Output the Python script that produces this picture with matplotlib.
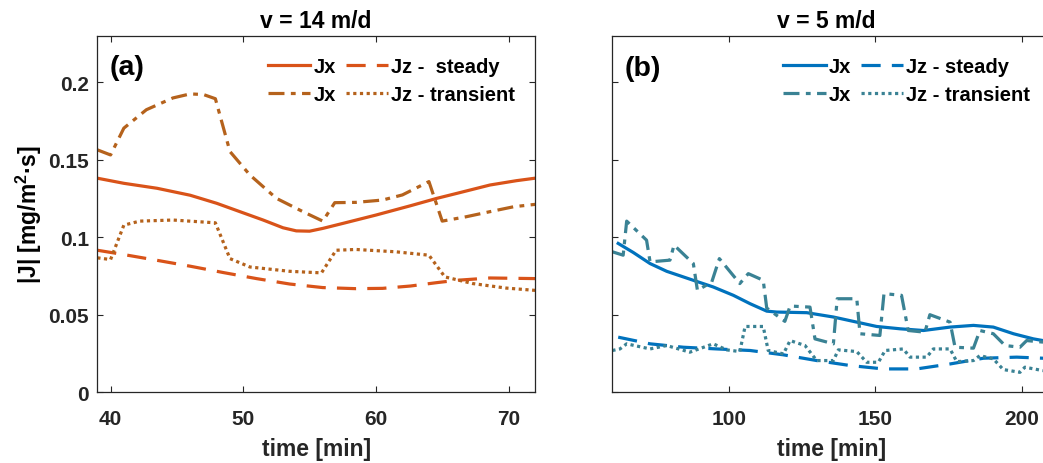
import matplotlib.pyplot as plt
import numpy as np

plt.rcParams['font.family'] = ['Liberation Sans', 'DejaVu Sans']
plt.rcParams['font.weight'] = 'bold'
plt.rcParams['mathtext.fontset'] = 'custom'
plt.rcParams['mathtext.bf'] = 'Liberation Sans:bold'
plt.rcParams['mathtext.rm'] = 'Liberation Sans:bold'

# ---- panel (a): v = 14 m/d ----
t_a_jx_s = [39, 41, 43.5, 46, 48, 49.75, 51.5, 53, 54, 55, 56, 57.5, 60, 62.6, 64.6, 66.1, 68.6, 70.6, 72]
j_a_jx_s = [0.138, 0.1347, 0.1315, 0.127, 0.1218, 0.1164, 0.111, 0.106, 0.104, 0.1038, 0.1056,
            0.1088, 0.1142, 0.1202, 0.125, 0.1282, 0.1336, 0.1364, 0.138]

t_a_jz_s = [39, 41, 43.5, 46, 48.5, 51, 53.5, 56, 58.5, 60.5, 62.6, 64.6, 66.1, 68.6, 72]
j_a_jz_s = [0.0915, 0.0887, 0.085, 0.0812, 0.0771, 0.0732, 0.0697, 0.0674, 0.0667, 0.0669,
            0.0684, 0.0706, 0.0721, 0.0736, 0.0732]

t_a_jx_t = [39, 40, 41, 42.7, 44.7, 46, 47, 47.9, 49, 50.5, 52.5, 54.5, 56, 56.9, 58.5, 60.5,
            62, 64, 65, 66.8, 68.6, 70.4, 72]
j_a_jx_t = [0.1563, 0.153, 0.1703, 0.1822, 0.1898, 0.1924, 0.192, 0.1893, 0.1552, 0.1401, 0.125,
            0.1164, 0.1103, 0.1222, 0.1224, 0.1239, 0.1272, 0.1358, 0.1103, 0.1131, 0.1164,
            0.1196, 0.1211]

t_a_jz_t = [39, 40, 41, 42.2, 44.7, 47.9, 49, 50.5, 53.5, 55.9, 57, 58.5, 61.5, 64, 65.2, 67.3, 69.8, 72]
j_a_jz_t = [0.0866, 0.0855, 0.1077, 0.1103, 0.111, 0.1092, 0.0861, 0.0807, 0.0779, 0.0769,
            0.0915, 0.092, 0.0905, 0.0883, 0.0743, 0.07, 0.0671, 0.0656]

# ---- panel (b): v = 5 m/d ----
t_b_jx_s = [62, 67.2, 72.9, 78.6, 87.7, 94.5, 101.4, 107.1, 112.8, 116.2, 126.5, 135.6, 143.6,
            150.4, 158.4, 166.4, 175.5, 183.5, 190.3, 197.2, 204, 207.3]
j_b_jx_s = [0.0959, 0.09, 0.0829, 0.0779, 0.0721, 0.0678, 0.0624, 0.057, 0.0522, 0.0516, 0.0512,
            0.0484, 0.0451, 0.0423, 0.0408, 0.0397, 0.0419, 0.043, 0.0419, 0.0376, 0.0343, 0.0332]

t_b_jz_s = [62, 72.9, 84.3, 95.7, 107.1, 118.5, 129.9, 141.3, 152.7, 164.1, 175.5, 186.9, 198.3, 207.3]
j_b_jz_s = [0.0354, 0.0311, 0.0289, 0.0278, 0.0268, 0.024, 0.0203, 0.0171, 0.0149, 0.0149,
            0.0181, 0.0218, 0.0225, 0.0218]

t_b_jx_t = [60, 63.7, 64.9, 71.7, 72.9, 79.7, 81.1, 87.7, 89.1, 94, 96.6, 103.6, 106.5, 111.6,
            112.8, 119, 120.8, 127.6, 129.3, 135.6, 136.9, 143.6, 144.7, 151.5, 152.9, 158.9,
            161.2, 166.9, 168.6, 175.5, 177.2, 183.5, 185.7, 190.3, 194.3, 199.4, 201.7, 207.3]
j_b_jx_t = [0.0905, 0.0883, 0.1103, 0.098, 0.084, 0.0851, 0.0948, 0.0829, 0.0656, 0.071, 0.0861,
            0.07, 0.0764, 0.0721, 0.0542, 0.0456, 0.0555, 0.0548, 0.0343, 0.0311, 0.0602, 0.0602,
            0.0376, 0.0365, 0.0635, 0.0624, 0.0397, 0.0386, 0.0499, 0.0451, 0.0289, 0.0283,
            0.0397, 0.0376, 0.03, 0.0289, 0.0332, 0.0322]

t_b_jz_t = [60, 62.6, 64.9, 72.9, 78.6, 86.5, 94.5, 99.1, 103.6, 105.4, 111.6, 113.3, 118.5,
            120.8, 125.9, 129.9, 135.6, 137.3, 143.6, 147, 151, 153.3, 159.5, 161.8, 167.5,
            169.8, 175.5, 177.8, 183.5, 185.7, 190.3, 193.7, 199.4, 201.1, 207.3]
j_b_jz_t = [0.0268, 0.0278, 0.0311, 0.0278, 0.03, 0.0257, 0.0311, 0.0272, 0.0261, 0.0423, 0.0423,
            0.0268, 0.0246, 0.0332, 0.03, 0.0203, 0.0203, 0.0272, 0.0261, 0.0192, 0.0192, 0.0268,
            0.0278, 0.0225, 0.0225, 0.0278, 0.0278, 0.0196, 0.0203, 0.0235, 0.0214, 0.0145,
            0.0127, 0.016, 0.0138]

c_orange = '#D95319'
c_brown = '#B5621C'
c_blue = '#0072BD'
c_teal = '#3A8294'
lw = 2.3
dash = (0, (6, 3.5))
dashdot = (0, (5, 2, 1.5, 2))
dot = (0, (1, 1.1))
spine_col = '#262626'

fig = plt.figure(figsize=(10.43, 4.64), dpi=100)
ax_a = fig.add_axes([0.0933, 0.153, 0.4197, 0.768])
ax_b = fig.add_axes([0.5871, 0.153, 0.4205, 0.768])


def style_axes(ax, xlim, xticks, show_ylabels):
    ax.set_xlim(*xlim)
    ax.set_ylim(0, 0.23)
    ax.set_xticks(xticks)
    ax.set_yticks([0, 0.05, 0.1, 0.15, 0.2])
    ax.set_yticklabels(['0', '0.05', '0.1', '0.15', '0.2'] if show_ylabels else [])
    ax.tick_params(direction='in', length=4, width=0.8, top=True, right=True,
                   labelsize=15, colors=spine_col, labelcolor='#262626')
    ax.tick_params(axis='x', pad=12)
    ax.tick_params(axis='y', pad=6)
    for s in ax.spines.values():
        s.set_color(spine_col)
        s.set_linewidth(0.9)
    ax.set_xlabel('time [min]', fontsize=16.5, fontweight='bold', color='#262626', labelpad=7)


ax_a.plot(t_a_jx_s, j_a_jx_s, color=c_orange, lw=lw, ls='-', label='Jx')
ax_a.plot(t_a_jx_t, j_a_jx_t, color=c_brown, lw=lw, ls=dashdot, label='Jx')
ax_a.plot(t_a_jz_s, j_a_jz_s, color=c_orange, lw=lw, ls=dash, label='Jz -  steady')
ax_a.plot(t_a_jz_t, j_a_jz_t, color=c_brown, lw=lw, ls=dot, label='Jz - transient')
style_axes(ax_a, (39, 72), [40, 50, 60, 70], True)
ax_a.set_title('v = 14 m/d', fontsize=16.5, fontweight='bold', pad=6)
ax_a.set_ylabel('|J| [mg/m$^{\\mathbf{2}}$·s]', fontsize=16.5, fontweight='bold', labelpad=3)
ax_a.text(0.027, 0.912, '(a)', transform=ax_a.transAxes, fontsize=20.5,
          fontweight='bold', va='center', ha='left')

ax_b.plot(t_b_jx_s, j_b_jx_s, color=c_blue, lw=lw, ls='-', label='Jx')
ax_b.plot(t_b_jx_t, j_b_jx_t, color=c_teal, lw=lw, ls=dashdot, label='Jx')
ax_b.plot(t_b_jz_s, j_b_jz_s, color=c_blue, lw=lw, ls=dash, label='Jz - steady')
ax_b.plot(t_b_jz_t, j_b_jz_t, color=c_teal, lw=lw, ls=dot, label='Jz - transient')
style_axes(ax_b, (60, 210), [100, 150, 200], False)
ax_b.set_title('v = 5 m/d', fontsize=16.5, fontweight='bold', pad=6, x=0.487)
ax_b.text(0.027, 0.91, '(b)', transform=ax_b.transAxes, fontsize=20.5,
          fontweight='bold', va='center', ha='left')

for ax in (ax_a, ax_b):
    ax.legend(ncol=2, loc='upper left', bbox_to_anchor=(0.39, 0.94), frameon=False,
              handlelength=2.1, handletextpad=0.15, columnspacing=0.5,
              labelspacing=0.45, borderpad=0, borderaxespad=0, prop={'weight': 'bold', 'size': 14.5})

fig.savefig('out.png', dpi=100)
